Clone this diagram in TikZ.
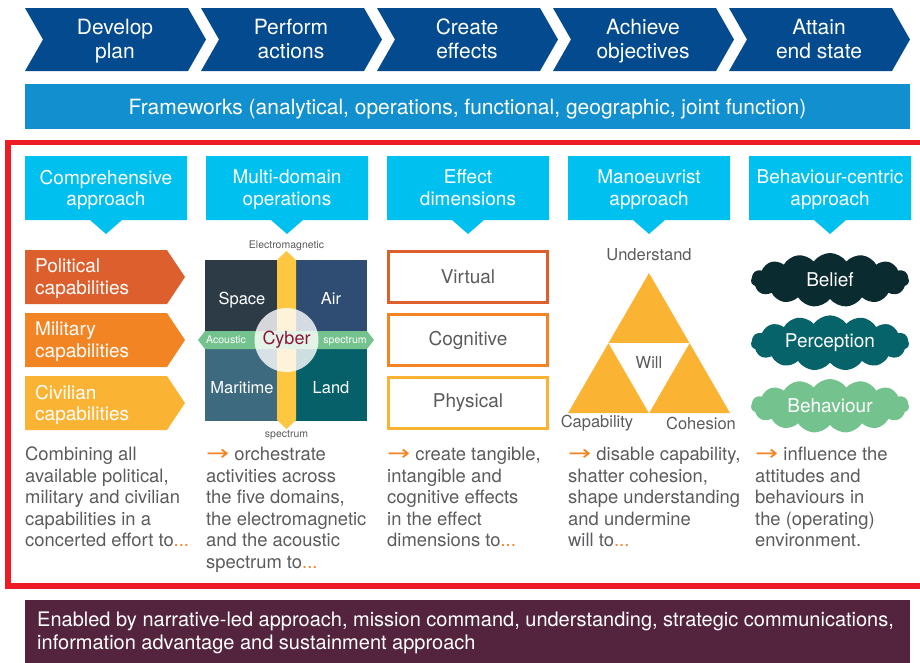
\documentclass[tikz,border=0pt]{standalone}
\usepackage{fontspec}
\setmainfont{TeX Gyre Heros}
\newfontfamily\arrowfont{DejaVu Sans}
\usetikzlibrary{shapes.symbols}
\definecolor{navy}{HTML}{034A8F}
\definecolor{fwblue}{HTML}{128FCE}
\definecolor{hdcyan}{HTML}{00C0F0}
\definecolor{framered}{HTML}{ED1C24}
\definecolor{polor}{HTML}{DD5F2E}
\definecolor{milor}{HTML}{F28424}
\definecolor{civor}{HTML}{FBB334}
\definecolor{txtgray}{HTML}{5A5B5D}
\definecolor{plum}{HTML}{54243F}
\definecolor{spacec}{HTML}{2D3B47}
\definecolor{airc}{HTML}{2F4C72}
\definecolor{marc}{HTML}{3E6A80}
\definecolor{landc}{HTML}{06606A}
\definecolor{acgreen}{HTML}{74C38F}
\definecolor{cyberred}{HTML}{8B1538}
\definecolor{emyellow}{HTML}{FDC741}
\definecolor{beliefc}{HTML}{0A2B30}
\definecolor{percepc}{HTML}{07636A}
\newcommand{\orarr}{{\color{milor}\scalebox{1.5}[1.15]{\arrowfont →}}}
\newcommand{\ordots}{{\color{milor}...}}
\tikzset{
  big/.style={font=\fontsize{21}{24}\selectfont},
  mid/.style={font=\fontsize{19}{21.5}\selectfont},
  small/.style={font=\fontsize{16.5}{19}\selectfont},
  tiny/.style={font=\fontsize{10.5}{12}\selectfont},
  para/.style={anchor=north west, align=left, text=txtgray, inner sep=0,
    font=\fontsize{18.4}{21.5}\selectfont},
  wtext/.style={text=white, align=center, inner sep=0, yshift=-3pt,
    execute at begin node=\strut, execute at end node=\strut},
  dimbox/.style={line width=2.5},
  puff/.style={cloud, cloud puffs=15, cloud puff arc=110, aspect=3,
    minimum width=158, minimum height=54, inner sep=0, text=white}
}
\begin{document}
\begin{tikzpicture}[x=1pt,y=-1pt]
\useasboundingbox (0,0) rectangle (920,662);
% process chevrons
\foreach \i/\t in {0/{Develop\\plan},1/{Perform\\actions},2/{Create\\effects},
  3/{Achieve\\objectives},4/{Attain\\end state}}{
  \pgfmathsetmacro\xa{25+176*\i}
  \fill[navy] (\xa,8) -- (\xa+163,8) -- (\xa+181,39.5) -- (\xa+163,71)
    -- (\xa,71) -- (\xa+18,39.5) -- cycle;
  \node[wtext, big] (stage\i) at (\xa+90,39.5) {\t};
}
\fill[fwblue] (25,84) rectangle (910,129);
\node[wtext, font=\fontsize{21}{24}\selectfont] (frameworks) at (467.5,106.5)
  {Frameworks (analytical, operations, functional, geographic, joint function)};
\draw[framered, line width=5.5] (8,142.5) rectangle (945,586);
% column headers
\foreach \i/\t in {0/{Comprehensive\\approach},1/{Multi-domain\\operations},
  2/{Effect\\dimensions},3/{Manoeuvrist\\approach},4/{Behaviour-centric\\approach}}{
  \pgfmathsetmacro\xa{25+181*\i}
  \fill[hdcyan] (\xa,156) -- (\xa+162,156) -- (\xa+162,220) -- (\xa+97,220)
    -- (\xa+81,234) -- (\xa+65,220) -- (\xa,220) -- cycle;
  \node[wtext, mid] (head\i) at (\xa+81,188) {\t};
}
% comprehensive approach
\foreach \c/\y/\t in {polor/250/{Political\\capabilities},milor/313/{Military\\capabilities},
  civor/376/{Civilian\\capabilities}}{
  \fill[\c] (25,\y) -- (167,\y) -- (185,\y+27) -- (167,\y+54) -- (25,\y+54) -- cycle;
  \node[wtext, mid, anchor=west, align=left] (cap\y) at (35,\y+27) {\t};
}
% multi-domain square
\fill[spacec] (205,260) rectangle (286.5,340);
\fill[airc] (286.5,260) rectangle (367,340);
\fill[marc] (205,340) rectangle (286.5,421);
\fill[landc] (286.5,340) rectangle (367,421);
\fill[emyellow] (277,260) -- (286.5,251) -- (296,260) -- (296,420) -- (286.5,429)
  -- (277,420) -- cycle;
\fill[acgreen] (205,331) -- (367,331) -- (374,340) -- (367,349) -- (205,349)
  -- (198,340) -- cycle;
\fill[white, opacity=0.8] (286.5,340) circle (32);
\node[wtext, small] (space) at (242,298) {Space};
\node[wtext, small] (air) at (331,298) {Air};
\node[wtext, small] (maritime) at (242,387) {Maritime};
\node[wtext, small] (land) at (331,387) {Land};
\node[wtext, tiny, yshift=1.5pt] (acoustic) at (226,340) {Acoustic};
\node[wtext, tiny, yshift=1.5pt] (acspec) at (345,340) {spectrum};
\node[inner sep=0, text=cyberred, font=\fontsize{18}{20}\selectfont] (cyber) at (286.5,340) {Cyber};
\node[inner sep=0, text=txtgray, tiny] (em) at (286.5,246) {Electromagnetic};
\node[inner sep=0, text=txtgray, tiny] (emspec) at (286.5,435) {spectrum};
% effect dimensions
\draw[polor, dimbox] (388.5,251.5) rectangle (547.5,302.5);
\draw[milor, dimbox] (388.5,314.5) rectangle (547.5,365.5);
\draw[civor, dimbox] (388.5,377.5) rectangle (547.5,428.5);
\node[inner sep=0, text=txtgray, mid] (virtual) at (468,277) {Virtual};
\node[inner sep=0, text=txtgray, mid] (cognitive) at (468,340) {Cognitive};
\node[inner sep=0, text=txtgray, mid] (physical) at (468,403) {Physical};
% manoeuvrist triangle
\fill[civor] (649,273) -- (730,413) -- (568,413) -- cycle;
\fill[white] (608.5,343) -- (689.5,343) -- (649,413) -- cycle;
\node[inner sep=0, text=txtgray, small] (understand) at (649,255) {Understand};
\node[inner sep=0, text=txtgray, small] (will) at (649,362) {Will};
\node[inner sep=0, text=txtgray, small] (capability) at (597,423) {Capability};
\node[inner sep=0, text=txtgray, small] (cohesion) at (701,423) {Cohesion};
% behaviour clouds
\node[puff, fill=beliefc, mid] (belief) at (830,280) {Belief};
\node[puff, fill=percepc, mid] (perception) at (830,343) {Perception};
\node[puff, fill=acgreen, mid] (behaviour) at (830,406) {Behaviour};
% text below
\node[para] (txt0) at (25,447) {Combining all\\available political,\\military and civilian\\capabilities in a\\concerted effort to\ordots};
\node[para] (txt1) at (206,447) {\orarr\ orchestrate\\activities across\\the five domains,\\the electromagnetic\\and the acoustic\\spectrum to\ordots};
\node[para] (txt2) at (387,447) {\orarr\ create tangible,\\intangible and\\cognitive effects\\in the effect\\dimensions to\ordots};
\node[para] (txt3) at (568,447) {\orarr\ disable capability,\\shatter cohesion,\\shape understanding\\and undermine\\will to\ordots};
\node[para] (txt4) at (755,447) {\orarr\ influence the\\attitudes and\\behaviours in\\the (operating)\\environment.};
% enablers
\fill[plum] (25,600) rectangle (910,670);
\node[wtext, font=\fontsize{20}{23}\selectfont, anchor=west, align=left] (enabled) at (37,631.5)
  {Enabled by narrative-led approach, mission command, understanding, strategic communications,\\information advantage and sustainment approach};
\end{tikzpicture}
\end{document}
